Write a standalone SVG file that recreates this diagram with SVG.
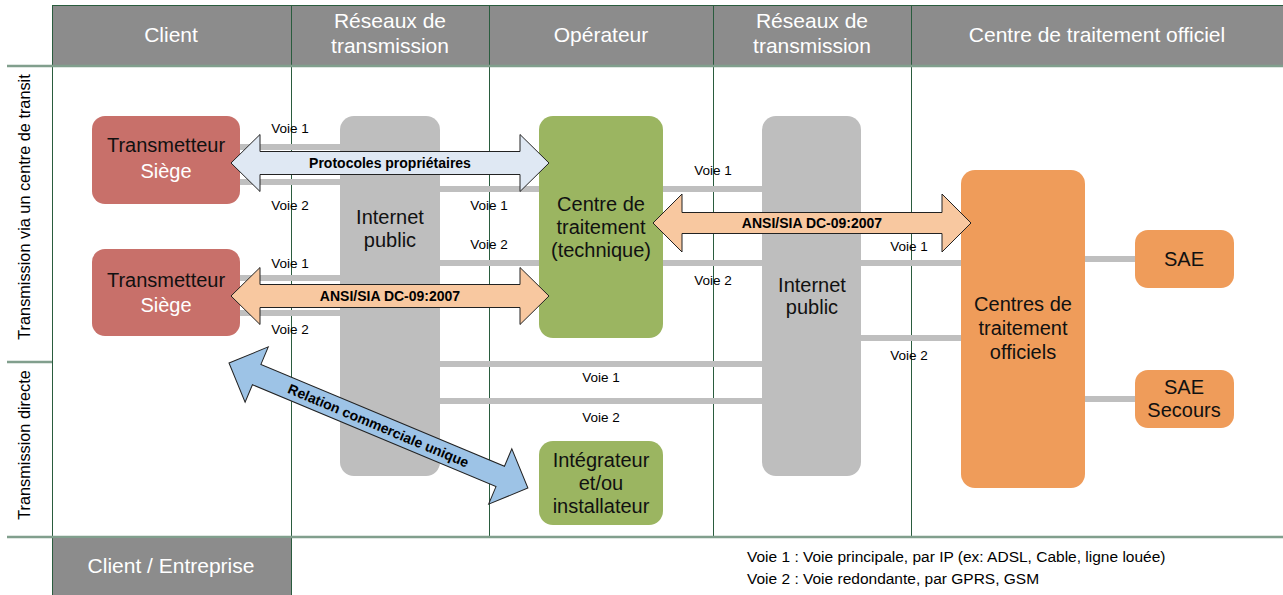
<svg xmlns="http://www.w3.org/2000/svg" width="1283" height="595" viewBox="0 0 1283 595">
<style>
.hdr{fill:#8c8c8c}
.ht{font-family:"Liberation Sans",Arial,sans-serif;font-size:21px;fill:#ffffff;text-anchor:middle}
.vl{stroke:#2a5c3e;stroke-width:1}
.hl{stroke:#819f8d;stroke-width:2.5}
.rl{font-family:"Liberation Sans",Arial,sans-serif;font-size:16.3px;fill:#000;text-anchor:middle}
.nt{font-family:"Liberation Sans",Arial,sans-serif;font-size:20px;fill:#111;text-anchor:middle}
.wt{fill:#ffffff}
.cn{stroke:#bfbfbf;stroke-width:6;stroke-linecap:round;fill:none}
.vt{font-family:"Liberation Sans",Arial,sans-serif;font-size:13.5px;fill:#000;text-anchor:middle}
.at{font-family:"Liberation Sans",Arial,sans-serif;font-size:14px;font-weight:bold;fill:#000;text-anchor:middle}
.arr{stroke:#222;stroke-width:1}
.lg{font-family:"Liberation Sans",Arial,sans-serif;font-size:15.5px;fill:#000}
</style>
<rect width="1283" height="595" fill="#ffffff"/>
<g id="grid">
<rect class="hdr" x="52" y="5" width="1231" height="61"/>
<line class="vl" x1="52" y1="5.5" x2="1283" y2="5.5"/>
<line class="vl" x1="52.5" y1="5" x2="52.5" y2="595"/>
<line class="vl" x1="291.5" y1="5" x2="291.5" y2="595"/>
<line class="vl" x1="489.5" y1="5" x2="489.5" y2="537"/>
<line class="vl" x1="713.5" y1="5" x2="713.5" y2="537"/>
<line class="vl" x1="911.5" y1="5" x2="911.5" y2="537"/>
<line class="hl" x1="7" y1="66" x2="1283" y2="66"/>
<line class="hl" x1="7" y1="362" x2="52" y2="362"/>
<line class="hl" x1="7" y1="537" x2="1283" y2="537"/>
<text class="ht" x="171" y="42">Client</text>
<text class="ht" x="390" y="28">Réseaux de</text>
<text class="ht" x="390" y="53">transmission</text>
<text class="ht" x="601" y="42">Opérateur</text>
<text class="ht" x="812" y="28">Réseaux de</text>
<text class="ht" x="812" y="53">transmission</text>
<text class="ht" x="1097" y="42">Centre de traitement officiel</text>
<text class="rl" transform="translate(30,207) rotate(-90)">Transmission via un centre de transit</text>
<text class="rl" transform="translate(30,445) rotate(-90)">Transmission directe</text>
<rect class="hdr" x="53" y="538" width="238" height="57"/>
<text class="ht" x="171" y="573">Client / Entreprise</text>
<text class="lg" x="747" y="562">Voie 1 : Voie principale, par IP (ex: ADSL, Cable, ligne louée)</text>
<text class="lg" x="747" y="584">Voie 2 : Voie redondante, par GPRS, GSM</text>
</g>
<g id="connectors">
<line class="cn" x1="238" y1="147" x2="342" y2="147"/>
<line class="cn" x1="238" y1="182" x2="342" y2="182"/>
<line class="cn" x1="438" y1="189" x2="541" y2="189"/>
<line class="cn" x1="438" y1="263" x2="541" y2="263"/>
<line class="cn" x1="238" y1="278" x2="342" y2="278"/>
<line class="cn" x1="238" y1="313" x2="342" y2="313"/>
<line class="cn" x1="661" y1="189" x2="764" y2="189"/>
<line class="cn" x1="661" y1="263" x2="764" y2="263"/>
<line class="cn" x1="859" y1="263" x2="963" y2="263"/>
<line class="cn" x1="859" y1="338" x2="963" y2="338"/>
<line class="cn" x1="438" y1="364" x2="764" y2="364"/>
<line class="cn" x1="438" y1="401" x2="764" y2="401"/>
<line class="cn" x1="1083" y1="259" x2="1137" y2="259"/>
<line class="cn" x1="1083" y1="399" x2="1137" y2="399"/>
<text class="vt" x="290" y="133">Voie 1</text>
<text class="vt" x="290" y="210">Voie 2</text>
<text class="vt" x="489" y="210">Voie 1</text>
<text class="vt" x="489" y="249">Voie 2</text>
<text class="vt" x="290" y="268">Voie 1</text>
<text class="vt" x="290" y="334">Voie 2</text>
<text class="vt" x="713" y="175">Voie 1</text>
<text class="vt" x="713" y="285">Voie 2</text>
<text class="vt" x="909" y="251">Voie 1</text>
<text class="vt" x="909" y="360">Voie 2</text>
<text class="vt" x="601" y="382">Voie 1</text>
<text class="vt" x="601" y="422">Voie 2</text>
</g>
<g id="transmetteur1">
<rect x="92" y="116" width="148" height="88" rx="13" fill="#c8706a"/>
<text class="nt" x="166" y="152">Transmetteur</text>
<text class="nt wt" x="166" y="178">Siège</text>
</g>
<g id="transmetteur2">
<rect x="92" y="249" width="148" height="87" rx="13" fill="#c8706a"/>
<text class="nt" x="166" y="287">Transmetteur</text>
<text class="nt wt" x="166" y="312">Siège</text>
</g>
<g id="internet1">
<rect x="340" y="116" width="100" height="360" rx="14" fill="#bebebe"/>
<text class="nt" x="390" y="224">Internet</text>
<text class="nt" x="390" y="247">public</text>
</g>
<g id="centre-technique">
<rect x="539" y="116" width="124" height="222" rx="14" fill="#9bb561"/>
<text class="nt" x="601" y="211">Centre de</text>
<text class="nt" x="601" y="234">traitement</text>
<text class="nt" x="601" y="257">(technique)</text>
</g>
<g id="internet2">
<rect x="762" y="116" width="99" height="360" rx="14" fill="#bebebe"/>
<text class="nt" x="812" y="292">Internet</text>
<text class="nt" x="812" y="314">public</text>
</g>
<g id="centres-officiels">
<rect x="961" y="170" width="124" height="318" rx="14" fill="#ef9c5a"/>
<text class="nt" x="1023" y="311">Centres de</text>
<text class="nt" x="1023" y="335">traitement</text>
<text class="nt" x="1023" y="359">officiels</text>
</g>
<g id="sae">
<rect x="1135" y="230" width="99" height="58" rx="13" fill="#ef9c5a"/>
<text class="nt" x="1184" y="266">SAE</text>
</g>
<g id="sae-secours">
<rect x="1135" y="370" width="99" height="58" rx="13" fill="#ef9c5a"/>
<text class="nt" x="1184" y="394">SAE</text>
<text class="nt" x="1184" y="417">Secours</text>
</g>
<g id="integrateur">
<rect x="539" y="441" width="124" height="84" rx="14" fill="#9bb561"/>
<text class="nt" x="601" y="467">Intégrateur</text>
<text class="nt" x="601" y="490">et/ou</text>
<text class="nt" x="601" y="513">installateur</text>
</g>
<g id="arrows">
<path class="arr" fill="#dfe8f3" d="M231,163 L260,134.5 L260,151.5 L520,151.5 L520,134.5 L549,163 L520,191.5 L520,174.5 L260,174.5 L260,191.5 Z"/>
<text class="at" x="390" y="168">Protocoles propriétaires</text>
<path class="arr" fill="#f8c8a0" d="M231,296 L260,267.5 L260,284.5 L520,284.5 L520,267.5 L549,296 L520,324.5 L520,307.5 L260,307.5 L260,324.5 Z"/>
<text class="at" x="390" y="301">ANSI/SIA DC-09:2007</text>
<path class="arr" fill="#f8c8a0" d="M653,223 L682,194 L682,212.5 L942,212.5 L942,194 L971,223 L942,252 L942,233.5 L682,233.5 L682,252 Z"/>
<text class="at" x="812" y="228">ANSI/SIA DC-09:2007</text>
<g transform="translate(229,363) rotate(22.7)">
<path class="arr" fill="#9dc3e6" d="M0,0 L30,-30 L30,-11 L294,-11 L294,-30 L324,0 L294,30 L294,11 L30,11 L30,30 Z"/>
<text class="at" x="162" y="5">Relation commerciale unique</text>
</g>
</g>
</svg>
